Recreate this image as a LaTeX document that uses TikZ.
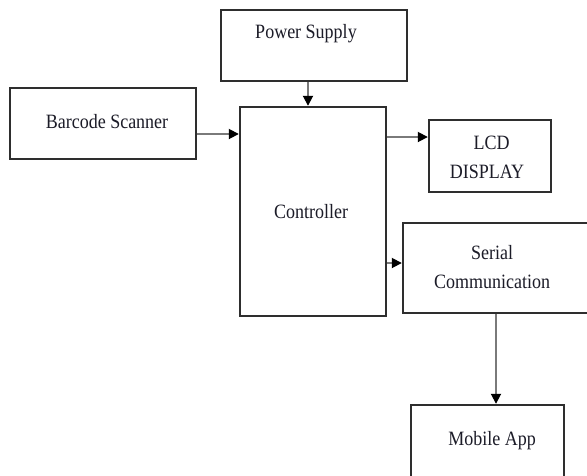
\documentclass[tikz,border=0pt]{standalone}
\usepackage{fontspec}
\usepackage{graphicx}
\setmainfont{Liberation Serif}
\usetikzlibrary{arrows.meta}
\definecolor{boxline}{HTML}{2E2E2E}
\definecolor{arrline}{HTML}{7A7A7A}
\definecolor{txt}{HTML}{1C1C28}
\newcommand{\blocktext}[1]{\scalebox{1}[1.13]{\begin{tabular}{@{}c@{}}#1\end{tabular}}}
\begin{document}
\begin{tikzpicture}[x=1pt,y=-1pt,
  blk/.style={draw=boxline,line width=2.4pt,rectangle,inner sep=0pt},
  lbl/.style={text=txt,font=\fontsize{18}{26}\selectfont,inner sep=0pt},
  arr/.style={draw=arrline,line width=1.8pt,-{Triangle[length=10pt,width=10pt,fill=black,color=black]}}]
\useasboundingbox (0,0) rectangle (587,475);
\clip (0,0) rectangle (587,475);
\fill[white] (0,0) rectangle (587,475);
% boxes
\node[blk,minimum width=186pt,minimum height=71pt] (ps) at (314,45.5) {};
\node[lbl] (pst) at (306,33) {\blocktext{Power Supply}};
\node[blk,minimum width=186pt,minimum height=71pt] (bar) at (103,123.5) {};
\node[lbl] (bart) at (107,123) {\blocktext{Barcode Scanner}};
\node[blk,minimum width=146pt,minimum height=209pt] (ctrl) at (313,211.5) {};
\node[lbl] (ctrlt) at (311,213) {\blocktext{Controller}};
\node[blk,minimum width=122pt,minimum height=72pt] (lcd) at (490,156) {};
\node[lbl] (lcdt) at (487,158) {\blocktext{\hspace*{0.5em}LCD\\DISPLAY}};
\node[blk,minimum width=200pt,minimum height=90pt] (ser) at (503,268) {};
\node[lbl] (sert) at (492,268) {\blocktext{Serial\\Communication}};
\node[blk,minimum width=153pt,minimum height=80pt] (mob) at (487.5,445) {};
\node[lbl] (mobt) at (492,440) {\blocktext{Mobile App}};
% connectors
\draw[arr] (ps.south -| 308,0) -- (ctrl.north -| 308,0);
\draw[arr] (bar.east |- 0,134) -- (ctrl.west |- 0,134);
\draw[arr] (ctrl.east |- 0,137) -- (lcd.west |- 0,137);
\draw[arr] (ctrl.east |- 0,263) -- (ser.west |- 0,263);
\draw[arr] (ser.south -| 496,0) -- (mob.north -| 496,0);
\end{tikzpicture}
\end{document}
